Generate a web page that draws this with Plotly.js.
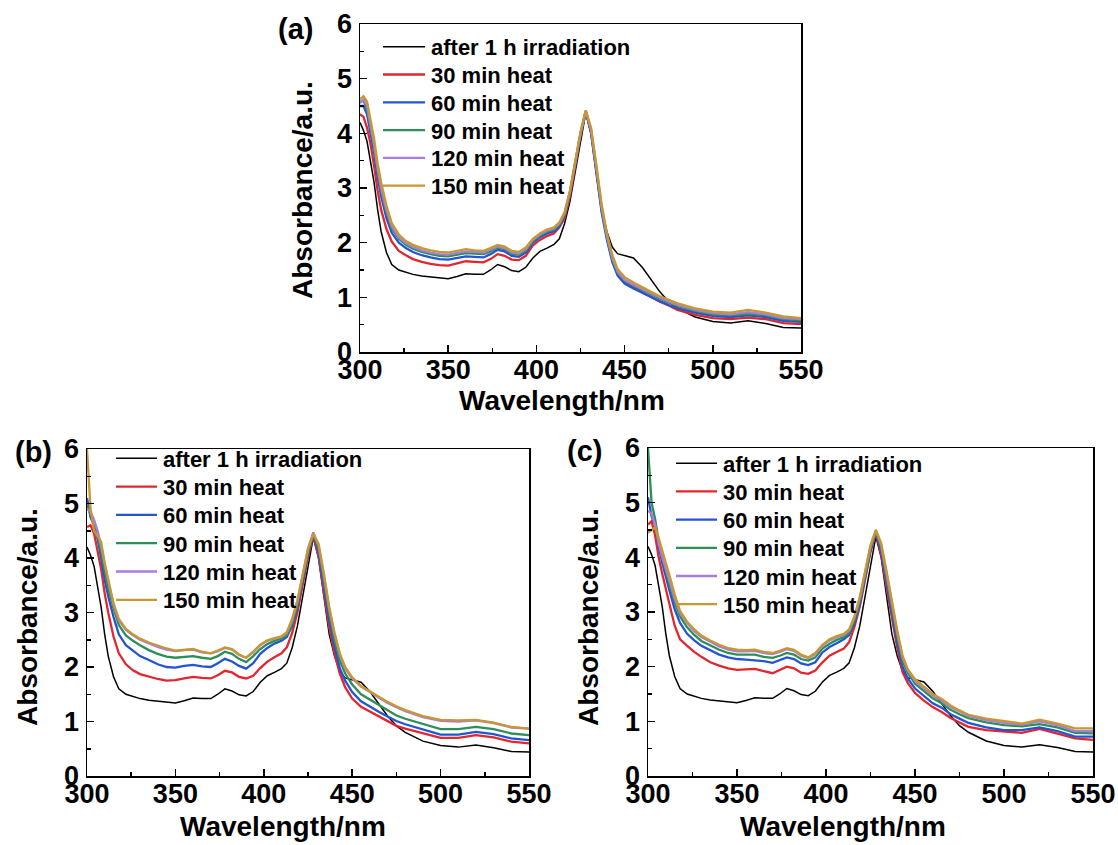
<!DOCTYPE html>
<html>
<head>
<meta charset="utf-8">
<script src="https://cdn.plot.ly/plotly-3.0.1.min.js"></script>
<style>html,body{margin:0;padding:0;background:#fff}#chart{width:1118px;height:845px}</style>
</head>
<body>
<div id="chart"></div>
<script>
// Wavelength grid (nm)
var wavelength = [300,302,304,306,308,310,312,315,318,322,326,330,335,340,345,350,355,360,365,370,374,378,382,386,390,394,398,402,406,410,413,416,419,422,425,428,431,434,437,440,443,446,450,455,460,465,470,475,480,490,500,510,520,530,540,550];

var seriesNames = ["after 1 h irradiation","30 min heat","60 min heat","90 min heat","120 min heat","150 min heat"];
var seriesColors = ["#000000","#e3262d","#2454cf","#2b8f57","#a77ee0","#c9972f"];

// after 1 h irradiation (same spectrum in all three panels)
var irradiated = [4.2,4.05,3.85,3.5,3.1,2.6,2.2,1.82,1.6,1.5,1.46,1.42,1.39,1.37,1.35,1.34,1.38,1.43,1.42,1.42,1.5,1.6,1.56,1.49,1.47,1.55,1.72,1.84,1.9,1.97,2.07,2.35,2.75,3.3,3.9,4.38,4.0,3.25,2.6,2.2,1.92,1.8,1.76,1.72,1.55,1.32,1.1,0.92,0.8,0.64,0.56,0.53,0.57,0.52,0.45,0.44];

// panel (a)
var a30  = [4.35,4.3,4.1,3.8,3.4,2.95,2.6,2.25,2.02,1.85,1.77,1.7,1.65,1.61,1.59,1.58,1.62,1.66,1.65,1.64,1.7,1.79,1.76,1.69,1.68,1.76,1.95,2.05,2.12,2.17,2.28,2.45,2.85,3.4,3.95,4.4,4.02,3.3,2.6,2.1,1.72,1.45,1.28,1.18,1.09,1.0,0.92,0.85,0.77,0.68,0.62,0.6,0.63,0.6,0.53,0.51];
var a60  = [4.5,4.5,4.35,4.0,3.65,3.2,2.85,2.45,2.18,2.0,1.9,1.83,1.77,1.73,1.7,1.69,1.72,1.75,1.74,1.73,1.79,1.87,1.84,1.76,1.74,1.82,2.0,2.1,2.17,2.21,2.3,2.5,2.9,3.45,3.98,4.4,4.0,3.28,2.55,2.05,1.65,1.4,1.25,1.16,1.08,1.0,0.93,0.86,0.8,0.72,0.66,0.64,0.67,0.64,0.57,0.55];
var a90  = [4.58,4.6,4.45,4.1,3.75,3.3,2.95,2.55,2.26,2.07,1.96,1.89,1.83,1.79,1.76,1.75,1.78,1.81,1.8,1.79,1.84,1.91,1.88,1.8,1.78,1.86,2.03,2.13,2.2,2.24,2.33,2.52,2.92,3.47,4.0,4.41,4.05,3.35,2.62,2.1,1.7,1.45,1.3,1.21,1.13,1.05,0.97,0.9,0.84,0.75,0.69,0.67,0.7,0.67,0.6,0.58];
var a120 = [4.55,4.62,4.5,4.15,3.8,3.35,3.0,2.6,2.3,2.1,1.99,1.92,1.86,1.82,1.79,1.78,1.81,1.84,1.83,1.82,1.87,1.93,1.9,1.82,1.8,1.88,2.05,2.15,2.22,2.26,2.35,2.54,2.93,3.48,4.0,4.41,4.06,3.37,2.64,2.12,1.72,1.47,1.32,1.23,1.15,1.07,0.99,0.92,0.86,0.77,0.71,0.69,0.73,0.69,0.62,0.6];
var a150 = [4.62,4.68,4.58,4.25,3.9,3.45,3.1,2.68,2.36,2.15,2.03,1.96,1.9,1.86,1.83,1.82,1.85,1.88,1.86,1.85,1.9,1.96,1.93,1.85,1.83,1.91,2.07,2.17,2.24,2.28,2.37,2.56,2.95,3.5,4.02,4.42,4.1,3.42,2.7,2.17,1.78,1.52,1.37,1.27,1.18,1.1,1.02,0.95,0.89,0.8,0.74,0.72,0.77,0.72,0.65,0.62];

// panel (b)
var b30  = [4.57,4.6,4.45,4.15,3.8,3.35,3.0,2.56,2.25,2.05,1.94,1.87,1.82,1.78,1.75,1.76,1.79,1.82,1.8,1.79,1.85,1.93,1.9,1.82,1.79,1.84,1.98,2.1,2.18,2.25,2.36,2.62,3.0,3.5,4.02,4.41,4.02,3.35,2.73,2.25,1.88,1.63,1.42,1.27,1.18,1.09,1.0,0.92,0.87,0.79,0.7,0.7,0.75,0.71,0.63,0.6];
var b60  = [5.1,4.75,4.6,4.35,4.0,3.6,3.3,2.92,2.6,2.4,2.3,2.2,2.13,2.05,2.0,1.99,2.02,2.04,2.01,2.0,2.07,2.15,2.1,2.02,1.97,2.07,2.24,2.35,2.43,2.48,2.55,2.75,3.1,3.6,4.08,4.44,4.1,3.47,2.86,2.38,1.98,1.75,1.54,1.37,1.27,1.18,1.09,1.01,0.95,0.86,0.76,0.76,0.81,0.77,0.69,0.66];
var b90  = [5.0,4.8,4.65,4.42,4.1,3.75,3.45,3.08,2.77,2.58,2.48,2.4,2.31,2.24,2.19,2.17,2.19,2.2,2.17,2.15,2.2,2.28,2.24,2.15,2.09,2.2,2.33,2.42,2.48,2.52,2.58,2.78,3.15,3.65,4.11,4.44,4.17,3.59,2.98,2.5,2.12,1.88,1.68,1.5,1.4,1.3,1.2,1.11,1.05,0.95,0.86,0.86,0.9,0.86,0.78,0.75];
var b120 = [4.9,4.85,4.7,4.5,4.22,3.88,3.58,3.14,2.85,2.68,2.58,2.5,2.43,2.37,2.32,2.29,2.31,2.32,2.27,2.25,2.29,2.35,2.32,2.22,2.17,2.27,2.4,2.48,2.52,2.55,2.62,2.85,3.2,3.7,4.17,4.47,4.23,3.68,3.07,2.6,2.22,1.97,1.79,1.64,1.54,1.44,1.34,1.26,1.19,1.08,1.01,1.0,1.02,0.97,0.89,0.87];
var b150 = [6.0,4.9,4.5,4.4,4.3,3.9,3.6,3.17,2.88,2.7,2.6,2.52,2.45,2.39,2.34,2.3,2.32,2.33,2.28,2.25,2.3,2.36,2.33,2.23,2.17,2.28,2.41,2.49,2.53,2.56,2.64,2.88,3.22,3.72,4.17,4.44,4.26,3.71,3.1,2.63,2.25,2.0,1.81,1.65,1.55,1.45,1.36,1.28,1.21,1.1,1.03,1.02,1.03,0.98,0.9,0.87];

// panel (c)
var c30  = [4.6,4.66,4.4,4.0,3.7,3.4,3.15,2.75,2.5,2.38,2.27,2.18,2.08,2.02,1.97,1.94,1.95,1.96,1.92,1.88,1.94,2.0,1.97,1.89,1.87,1.93,2.08,2.2,2.27,2.33,2.45,2.73,3.1,3.6,4.1,4.44,4.05,3.45,2.9,2.35,1.9,1.7,1.52,1.38,1.26,1.17,1.06,0.98,0.9,0.84,0.81,0.79,0.86,0.78,0.69,0.66];
var c60  = [5.1,4.75,4.6,4.2,3.9,3.62,3.4,3.05,2.8,2.6,2.48,2.38,2.3,2.22,2.17,2.14,2.13,2.12,2.1,2.07,2.12,2.17,2.14,2.06,2.03,2.08,2.26,2.36,2.43,2.5,2.58,2.8,3.15,3.65,4.13,4.46,4.12,3.55,3.0,2.45,2.0,1.78,1.6,1.46,1.33,1.25,1.13,1.05,0.97,0.89,0.84,0.84,0.89,0.82,0.72,0.72];
var c90  = [6.0,5.0,4.7,4.3,4.0,3.72,3.5,3.18,2.92,2.72,2.58,2.47,2.39,2.31,2.25,2.22,2.22,2.22,2.18,2.16,2.2,2.25,2.22,2.14,2.11,2.17,2.33,2.42,2.49,2.54,2.62,2.85,3.2,3.7,4.16,4.47,4.18,3.63,3.08,2.55,2.1,1.88,1.69,1.56,1.42,1.33,1.21,1.13,1.06,0.98,0.93,0.91,0.95,0.89,0.79,0.78];
var c120 = [4.85,4.8,4.6,4.25,4.0,3.77,3.58,3.25,2.98,2.8,2.65,2.54,2.45,2.37,2.31,2.28,2.28,2.29,2.25,2.23,2.27,2.32,2.29,2.2,2.16,2.23,2.38,2.48,2.54,2.58,2.66,2.9,3.25,3.75,4.2,4.5,4.22,3.7,3.15,2.62,2.17,1.93,1.74,1.61,1.47,1.38,1.26,1.18,1.1,1.02,0.97,0.94,1.0,0.93,0.82,0.82];
var c150 = [4.45,4.5,4.55,4.35,4.1,3.9,3.68,3.32,3.02,2.82,2.68,2.57,2.48,2.4,2.34,2.31,2.3,2.31,2.27,2.25,2.29,2.34,2.31,2.22,2.17,2.25,2.4,2.5,2.56,2.6,2.68,2.92,3.28,3.78,4.22,4.5,4.26,3.75,3.2,2.67,2.2,1.95,1.77,1.64,1.5,1.41,1.29,1.2,1.12,1.05,1.0,0.96,1.03,0.96,0.87,0.87];

var xTickVals = [300,350,400,450,500,550];
var yTickVals = [0,1,2,3,4,5,6];
var panelLabels = ["(a)","(b)","(c)"];
var xTitle = "Wavelength/nm";
var yTitle = "Absorbance/a.u.";

var panels = [
  {sets:[irradiated,a30,a60,a90,a120,a150], xa:"x",  ya:"y"},
  {sets:[irradiated,b30,b60,b90,b120,b150], xa:"x2", ya:"y2"},
  {sets:[irradiated,c30,c60,c90,c120,c150], xa:"x3", ya:"y3"}
];

var traces = [];
panels.forEach(function(p){
  p.sets.forEach(function(vals,i){
    traces.push({
      type:"scatter", mode:"lines", x:wavelength, y:vals,
      name:seriesNames[i], xaxis:p.xa, yaxis:p.ya, showlegend:false,
      line:{color:seriesColors[i], width:(i===0?1.5:2.3)},
      hoverinfo:"skip"
    });
  });
});

var W = 1118, H = 845;
function px(x){return x/W;}
function py(y){return 1-y/H;}

var fnt = "Liberation Sans, Arial, sans-serif";
function xaxisDef(l,r,anchor){
  return {domain:[px(l),px(r)], anchor:anchor, range:[300,550], tickvals:xTickVals,
    showline:true, mirror:true, linecolor:"#000", linewidth:1.5,
    ticks:"inside", ticklen:7, tickwidth:1.5, tickcolor:"#000", ticklabelstandoff:-7,
    minor:{dtick:25, ticks:"inside", ticklen:4, tickwidth:1.5, tickcolor:"#000", showgrid:false},
    showgrid:false, zeroline:false, fixedrange:true,
    tickfont:{family:fnt, size:27, weight:"bold", color:"#000"}};
}
function yaxisDef(t,b,anchor){
  return {domain:[py(b),py(t)], anchor:anchor, range:[0,6], tickvals:yTickVals,
    showline:true, mirror:true, linecolor:"#000", linewidth:1.5,
    ticks:"inside", ticklen:7, tickwidth:1.5, tickcolor:"#000", ticklabelstandoff:1,
    minor:{dtick:0.5, ticks:"inside", ticklen:4, tickwidth:1.5, tickcolor:"#000", showgrid:false},
    showgrid:false, zeroline:false, fixedrange:true,
    tickfont:{family:fnt, size:27, weight:"bold", color:"#000"}};
}

var ann = [], shapes = [];
function addText(text,x,y,size,angle,anchor){
  ann.push({text:text, xref:"paper", yref:"paper", x:px(x), y:py(y), xanchor:anchor||"center", yanchor:"middle",
    showarrow:false, textangle:angle||0, font:{family:fnt, size:size, weight:"bold", color:"#000"}});
}
addText(panelLabels[0],295,29,29);
addText(panelLabels[1],33,452,29);
addText(panelLabels[2],584,451,29);
addText(xTitle,562,401,28);
addText(xTitle,283,826,28);
addText(xTitle,843,826,28);
addText(yTitle,302,190,28,-90);
addText(yTitle,27,617,28,-90);
addText(yTitle,588,617,28,-90);

// legends (sample line + label), one per panel
var legendSpots = [
  {x0:383, x1:425, tx:429, y0:46.7, dy:27.8},
  {x0:116, x1:157, tx:161, y0:458.3, dy:28.3},
  {x0:676, x1:717, tx:721, y0:463.2, dy:28.2}
];
legendSpots.forEach(function(L){
  seriesNames.forEach(function(nm,i){
    var y = L.y0 + i*L.dy;
    shapes.push({type:"line", xref:"paper", yref:"paper", x0:px(L.x0), x1:px(L.x1), y0:py(y), y1:py(y),
      line:{color:seriesColors[i], width:(i===0?1.5:2.3)}});
    addText(nm, L.tx, y+1, 22, 0, "left");
  });
});

var layout = {
  width:W, height:H, margin:{l:0,r:0,t:0,b:0}, paper_bgcolor:"#fff", plot_bgcolor:"rgba(0,0,0,0)",
  showlegend:false,
  xaxis:xaxisDef(360,801,"y"),  yaxis:yaxisDef(24,352,"x"),
  xaxis2:xaxisDef(87,529,"y2"), yaxis2:yaxisDef(449,776,"x2"),
  xaxis3:xaxisDef(648,1093,"y3"), yaxis3:yaxisDef(448,776,"x3"),
  annotations:ann, shapes:shapes
};

Plotly.newPlot("chart", traces, layout, {displayModeBar:false, staticPlot:true});
</script>
</body>
</html>
